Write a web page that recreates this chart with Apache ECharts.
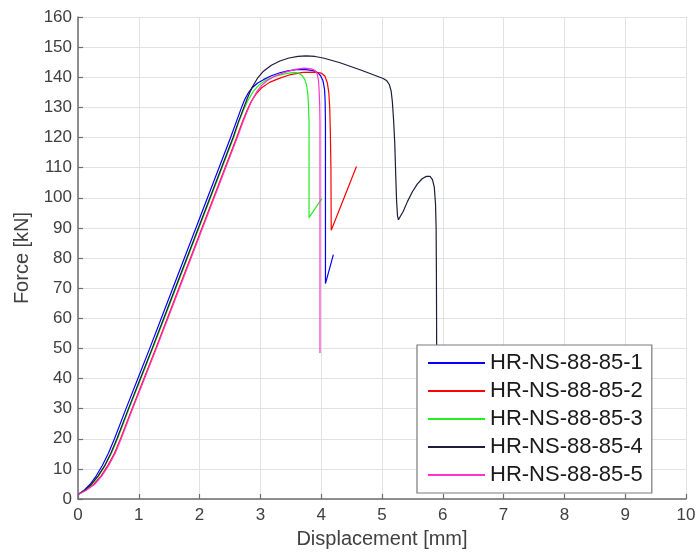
<!DOCTYPE html>
<html>
<head>
<meta charset="utf-8">
<script src="https://cdn.jsdelivr.net/npm/echarts@6/dist/echarts.min.js"></script>
<style>html,body{margin:0;padding:0;background:#fff;}#c{width:699px;height:558px;}</style>
</head>
<body>
<div id="c"></div>
<script>
const seriesNames = ['HR-NS-88-85-1','HR-NS-88-85-2','HR-NS-88-85-3','HR-NS-88-85-4','HR-NS-88-85-5'];
const seriesColors = ['#0000ff','#ff0000','#22ee22','#1c1c3c','#ff33cc'];

const s1x = [0,0.1,0.2,0.3,0.4,0.5,0.6,0.79,0.985,1.18,1.37,1.75,2.13,2.51,2.69,2.74,2.8,2.87,2.95,3.05,3.18,3.32,3.45,3.59,3.75,3.87,3.94,3.99,4.03,4.055,4.065,4.07,4.07,4.2];
const s1y = [1.5,2.9,4.9,7.7,11.1,15.2,20,30,40,50,60,80,100,120,130,132.5,134.8,136.6,138,139.2,140.5,141.5,142.1,142.5,142.5,142.2,141.6,140.5,138.8,136,132,125,71.5,81.1];

const s2x = [0,0.13,0.26,0.38,0.49,0.6,0.7,0.89,1.085,1.28,1.47,1.85,2.23,2.61,2.7,2.78,2.85,2.93,3.02,3.15,3.32,3.5,3.7,3.9,4.0,4.06,4.1,4.125,4.14,4.15,4.16,4.165,4.58];
const s2y = [1.5,2.9,4.9,7.7,11.1,15.2,20,30,40,50,60,80,100,120,125,129,132,134.5,136.5,138.3,139.7,140.9,141.6,141.7,141.4,140.4,138.2,135,130,122,110,89.2,110.4];

const s3x = [0,0.11,0.23,0.34,0.445,0.55,0.65,0.84,1.035,1.23,1.42,1.80,2.18,2.56,2.65,2.73,2.8,2.88,2.97,3.08,3.22,3.4,3.55,3.63,3.69,3.73,3.76,3.78,3.79,3.80,3.80,4.01];
const s3y = [1.5,2.9,4.9,7.7,11.1,15.2,20,30,40,50,60,80,100,120,125.5,129.5,132.5,135.2,137.3,138.9,140.2,141.1,141.6,141.4,140.5,139.2,137.4,134.5,131,125,93.4,99.7];

const s4x = [0,0.11,0.22,0.33,0.44,0.54,0.64,0.83,1.025,1.22,1.41,1.79,2.17,2.55,2.62,2.7,2.78,2.86,2.95,3.05,3.18,3.32,3.47,3.62,3.75,3.9,4.05,4.31,4.65,4.9,5.02,5.08,5.12,5.15,5.17,5.19,5.21,5.225,5.24,5.255,5.27,5.3,5.35,5.42,5.5,5.58,5.66,5.73,5.79,5.83,5.86,5.88,5.89,5.895,5.90];
const s4y = [1.5,2.9,4.9,7.7,11.1,15.2,20,30,40,50,60,80,100,120,124.2,128.5,132.8,136.5,139.6,142,144,145.4,146.4,146.9,147.1,146.9,146.3,144.8,142.4,140.5,139.6,138.8,137.6,135.5,132,126,118,108,99,94,92.7,93.3,95.5,98.8,102,104.5,106.3,107.1,107.1,106,103.5,98,90,75,45];

const s5x = [0,0.13,0.27,0.39,0.5,0.61,0.71,0.90,1.095,1.29,1.48,1.86,2.24,2.62,2.71,2.79,2.86,2.94,3.02,3.12,3.25,3.4,3.57,3.72,3.84,3.9,3.935,3.955,3.965,3.975,3.98,3.98];
const s5y = [1.5,2.8,4.8,7.6,11,15.1,20,30,40,50,60,80,100,120,125,129,132.3,135.2,137.3,139,140.5,141.6,142.6,143,142.8,142.2,141,139,136,131,125,48.5];

const xs = [s1x,s2x,s3x,s4x,s5x];
const ys = [s1y,s2y,s3y,s4y,s5y];

const axisGray = '#6e6e6e';
const textGray = '#404040';
const fontFam = 'Liberation Sans, Arial, sans-serif';

const chart = echarts.init(document.getElementById('c'), null, {renderer:'canvas'});
chart.setOption({
  animation: false,
  backgroundColor: '#fff',
  grid: {left: 78, right: 13, top: 17, bottom: 59, containLabel: false},
  xAxis: {
    type: 'value', min: 0, max: 10, interval: 1,
    name: 'Displacement [mm]', nameLocation: 'middle', nameGap: 30,
    nameTextStyle: {fontSize: 20, color: textGray, fontFamily: fontFam},
    axisLine: {show: true, onZero: false, lineStyle: {color: axisGray, width: 1.5}},
    axisTick: {show: true, inside: true, length: 5, lineStyle: {color: axisGray, width: 1.2}},
    axisLabel: {fontSize: 17, color: textGray, margin: 8, fontFamily: fontFam},
    splitLine: {show: true, lineStyle: {color: '#e2e2e2', width: 1}}
  },
  yAxis: {
    type: 'value', min: 0, max: 160, interval: 10,
    name: 'Force [kN]', nameLocation: 'middle', nameGap: 46, nameRotate: 90,
    nameTextStyle: {fontSize: 20, color: textGray, fontFamily: fontFam},
    axisLine: {show: true, onZero: false, lineStyle: {color: axisGray, width: 1.5}},
    axisTick: {show: true, inside: true, length: 5, lineStyle: {color: axisGray, width: 1.2}},
    axisLabel: {fontSize: 17, color: textGray, margin: 6, fontFamily: fontFam},
    splitLine: {show: true, lineStyle: {color: '#e2e2e2', width: 1}}
  },
  legend: {
    orient: 'vertical', left: 417, top: 345,
    padding: [7, 9, 7, 11],
    icon: 'rect',
    itemWidth: 57, itemHeight: 2, itemGap: 6,
    backgroundColor: '#ffffff', borderColor: '#7a7a7a', borderWidth: 1.2, borderRadius: 0,
    textStyle: {fontSize: 22, color: '#1a1a1a', fontFamily: fontFam, lineHeight: 22},
    data: seriesNames
  },
  series: seriesNames.map((n, i) => ({
    name: n, type: 'line', symbol: 'none', showSymbol: false, smooth: false,
    color: seriesColors[i],
    lineStyle: {color: seriesColors[i], width: 1.2},
    data: xs[i].map((x, k) => [x, ys[i][k]])
  }))
});
</script>
</body>
</html>
